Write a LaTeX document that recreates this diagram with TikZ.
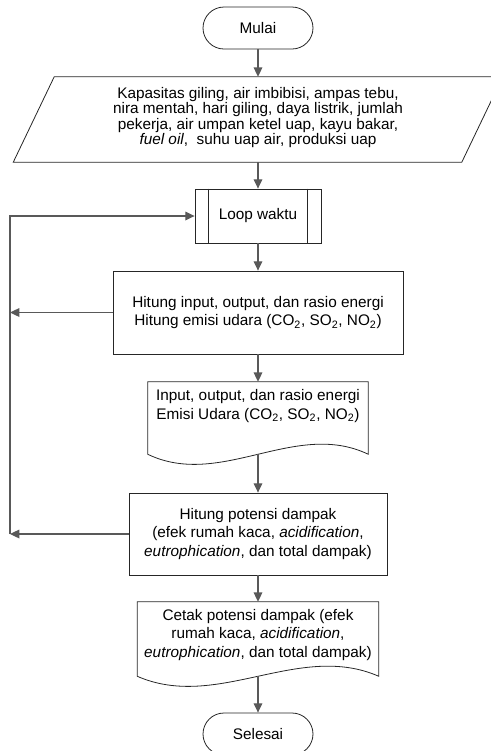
\documentclass[tikz,border=0pt]{standalone}
\usepackage{fontspec}
\setmainfont{Liberation Sans}
\usetikzlibrary{math,arrows.meta}

\tikzset{
  garis/.style={draw=black!85, line width=0.6pt},
  panah/.style={draw=black!65, line width=0.9pt, -{Triangle[length=7pt,width=6.5pt]}},
  teks/.style={font=\fontsize{11.5}{14}\selectfont, align=center, inner sep=0pt},
  terminal/.style={garis, teks, rounded corners=15.75pt, minimum width=82.5pt, minimum height=31.5pt},
  proses/.style={garis, teks, rectangle},
}

\begin{document}
\begin{tikzpicture}[x=0.75pt,y=-0.75pt]
  \tikzmath{
    real \cx,\lx,\miring;
    \cx=258;
    \lx=10;
    \miring=15.375; % separuh kemiringan jajaran genjang (pt)
  }
  \useasboundingbox (0,0) rectangle (491,751);

  \node[terminal] (mulai) at (\cx,28) {Mulai};

  % data masukan
  \node[minimum width=336pt, minimum height=63.75pt, inner sep=0pt] (masukan) at (\cx,119.5) {};
  \draw[garis] ([xshift=-\miring pt]masukan.south west) -- ([xshift=\miring pt]masukan.north west)
    -- ([xshift=\miring pt]masukan.north east) -- ([xshift=-\miring pt]masukan.south east) -- cycle;
  \node[teks, font=\fontsize{11.5}{11.5}\selectfont] (masukanteks) at (\cx,117.5)
    {Kapasitas giling, air imbibisi, ampas tebu,\\nira mentah, hari giling, daya listrik, jumlah\\pekerja, air umpan ketel uap, kayu bakar,\\\textit{fuel oil},\ \ suhu uap air, produksi uap};

  \node[proses, minimum width=94.5pt, minimum height=40.5pt] (loop) at (\cx,216) {Loop waktu};
  \draw[garis] ([xshift=10.5pt]loop.north west) -- ([xshift=10.5pt]loop.south west);
  \draw[garis] ([xshift=-10.5pt]loop.north east) -- ([xshift=-10.5pt]loop.south east);

  \node[proses, minimum width=217.5pt, minimum height=62.25pt] (hitung) at (\cx,312.5)
    {Hitung input, output, dan rasio energi\\Hitung emisi udara (CO\textsubscript{2}, SO\textsubscript{2}, NO\textsubscript{2})};

  % dokumen keluaran
  \node[minimum width=165pt, minimum height=54pt] (keluaran) at (\cx,418) {};
  \node[teks] (keluaranteks) at (\cx,406)
    {Input, output, dan rasio energi\\Emisi Udara (CO\textsubscript{2}, SO\textsubscript{2}, NO\textsubscript{2})};
  \draw[garis] (keluaran.south west) -- (keluaran.north west) -- (keluaran.north east)
    -- (keluaran.south east) .. controls +(-73,-35) and +(73,35) .. (keluaran.south west) -- cycle;

  \node[proses, minimum width=193.5pt, minimum height=61.5pt] (dampak) at (\cx,534)
    {Hitung potensi dampak\\(efek rumah kaca, \textit{acidification},\\\textit{eutrophication}, dan total dampak)};

  % dokumen cetak
  \node[minimum width=180.75pt, minimum height=55.5pt] (cetak) at (\cx,639) {};
  \node[teks] (cetakteks) at (\cx,635)
    {Cetak potensi dampak (efek\\rumah kaca, \textit{acidification},\\\textit{eutrophication}, dan total dampak)};
  \draw[garis] (cetak.south west) -- (cetak.north west) -- (cetak.north east)
    -- (cetak.south east) .. controls +(-80,-35) and +(80,35) .. (cetak.south west) -- cycle;

  \node[terminal] (selesai) at (\cx,734) {Selesai};

  \draw[panah] (mulai) -- (masukan);
  \draw[panah] (masukan) -- (loop);
  \draw[panah] (loop) -- (hitung);
  \draw[panah] (hitung) -- (keluaran);
  \draw[panah] (keluaran) -- (dampak);
  \draw[panah] (dampak) -- (cetak);
  \draw[panah] (cetak) -- (selesai);

  % loop balik
  \coordinate (balik) at (\lx,534);
  \draw[panah] (dampak) -- (balik);
  \draw[panah] (hitung) -- (hitung -| balik);
  \draw[panah] (balik) |- (loop);
\end{tikzpicture}
\end{document}
